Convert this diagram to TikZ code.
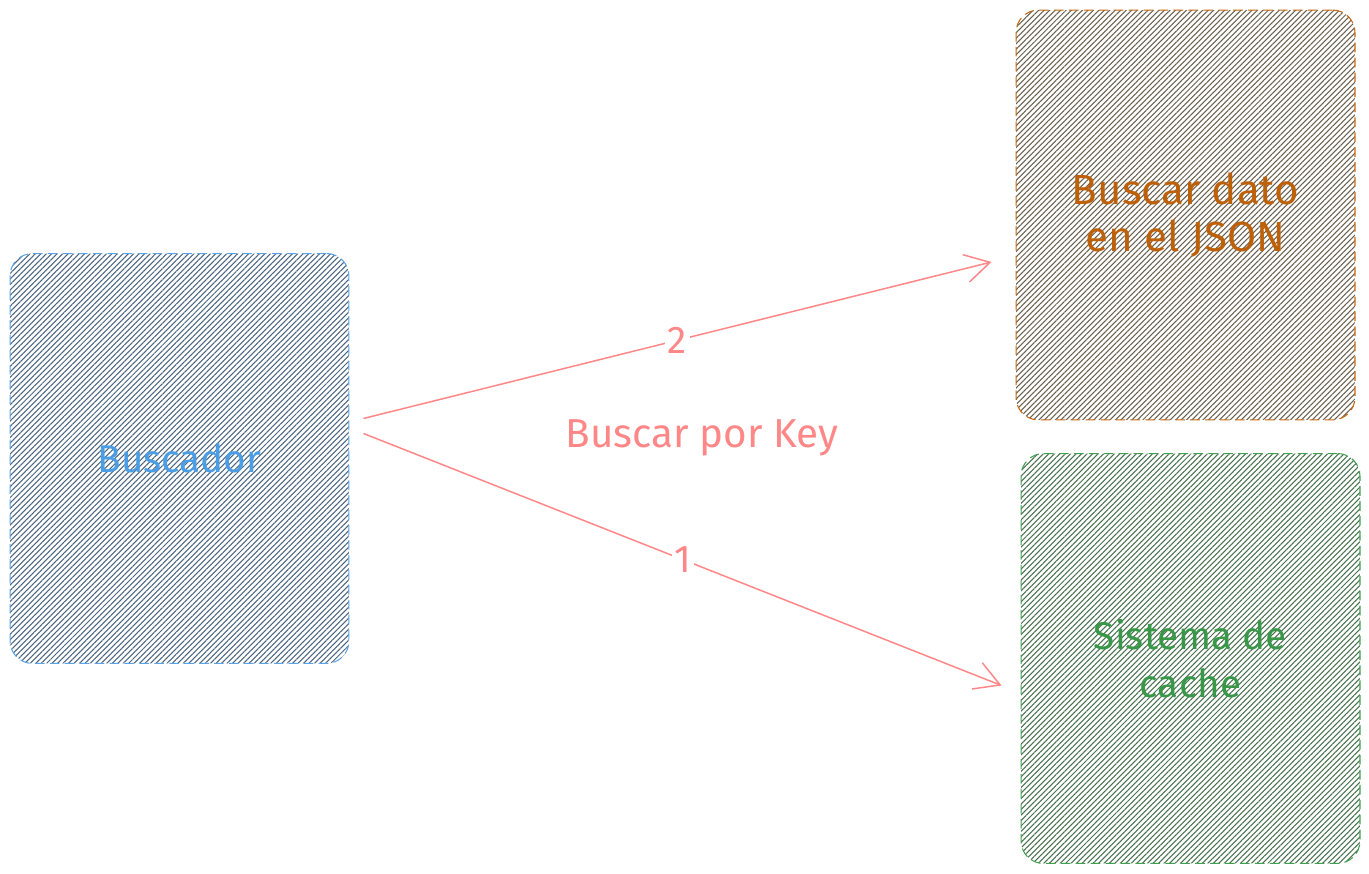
\documentclass[tikz,border=0pt]{standalone}
\usepackage{fontspec}
\setmainfont{Fira Sans}
\usetikzlibrary{arrows.meta,patterns.meta,calc}

\definecolor{blueline}{RGB}{90,163,230}
\definecolor{bluetxt}{RGB}{74,158,230}
\definecolor{bluehatch}{RGB}{76,100,125}
\definecolor{brownline}{RGB}{196,104,16}
\definecolor{browntxt}{RGB}{190,96,8}
\definecolor{brownhatch}{RGB}{105,95,78}
\definecolor{greenline}{RGB}{64,160,80}
\definecolor{greentxt}{RGB}{56,152,72}
\definecolor{greenhatch}{RGB}{72,112,78}
\definecolor{linkred}{RGB}{255,135,135}

\tikzset{
  box/.style={rectangle, rounded corners=0.45cm, minimum width=6.78cm, minimum height=8.2cm,
    inner sep=0pt, line width=0.6pt, dash pattern=on 5.5pt off 3pt, align=center,
    font=\fontsize{22}{27}\selectfont,
    pattern={Lines[angle=45,distance=2.2pt,line width=0.6pt]}},
  link/.style={draw=linkred, line width=0.85pt},
  num/.style={fill=white, inner sep=1.5pt, text=linkred, font=\fontsize{22}{26}\selectfont},
  linktxt/.style={text=linkred, font=\fontsize{23}{26}\selectfont}
}

\begin{document}
\begin{tikzpicture}[x=0.02cm, y=-0.02cm, >={Straight Barb[length=14pt,width=16pt]}]
\useasboundingbox (0,0) rectangle (1369,874);

%boxes
\node[box, draw=blueline, text=bluetxt, pattern color=bluehatch]    (busc)  at (179.5,458.5) {Buscador};
\node[box, draw=brownline, text=browntxt, pattern color=brownhatch,
      font=\fontsize{24}{27}\selectfont]                             (json)  at (1185.5,215)  {Buscar dato\\en el JSON};
\node[box, draw=greenline, text=greentxt, pattern color=greenhatch] (cache) at (1190.5,658.5) {Sistema de\\cache};

%arrows
\draw[link, ->] ($(busc.east)+(14,-40)$) -- node[num] {2} ($(json.west)+(-24,47)$);   %busc--json
\draw[link, ->] ($(busc.east)+(14,-25)$) -- node[num] {1} ($(cache.west)+(-19,27)$);  %busc--cache

%label
\node[linktxt] (key) at (702,438) {Buscar por Key};
\end{tikzpicture}
\end{document}
